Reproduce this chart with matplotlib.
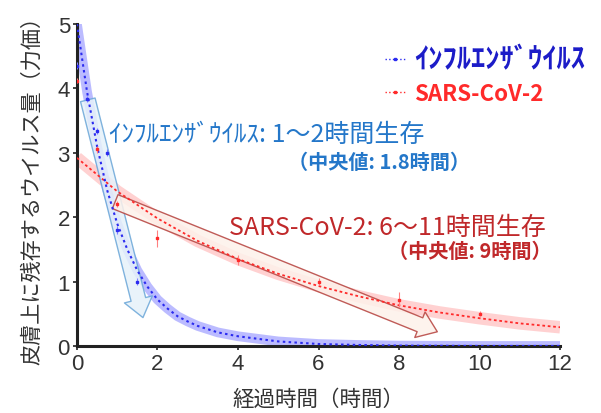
import numpy as np
import matplotlib
matplotlib.use("Agg")
import matplotlib.pyplot as plt
from matplotlib.lines import Line2D
from matplotlib.patches import FancyArrowPatch, ArrowStyle

plt.rcParams["font.family"] = ["Noto Sans CJK JP", "DejaVu Sans"]

# measured points (hours, log10 titer)
flu_t = [0, 0.25, 0.5, 0.75, 1, 1.5]
flu_v = [4.35, 3.83, 3.34, 3.0, 1.8, 1.0]
flu_err = [0.05, 0.05, 0.05, 0.05, 0.06, 0.05]

cov_t = [0, 0.5, 1, 2, 4, 6, 8, 10]
cov_v = [4.12, 3.05, 2.2, 1.67, 1.33, 1.0, 0.72, 0.5]
cov_err = [0.04, 0.05, 0.05, 0.13, 0.08, 0.05, 0.12, 0.04]

# fitted decay curves
flu_fit_t = [0, 0.25, 0.5, 0.75, 1, 1.25, 1.5, 1.75, 2, 2.25, 2.5, 2.75, 3, 3.5, 4, 5, 6, 7, 8, 10, 12]
flu_fit_v = [5.0, 3.95, 3.1, 2.42, 1.9, 1.5, 1.17, 0.92, 0.72, 0.58, 0.46, 0.38, 0.31, 0.21, 0.15,
             0.07, 0.03, 0.015, 0.005, 0.0, 0.0]
cov_fit_t = [0, 1, 2, 3, 4, 5, 6, 7, 8, 9, 10, 11, 12]
cov_fit_v = [2.92, 2.4, 1.98, 1.63, 1.35, 1.12, 0.93, 0.77, 0.63, 0.52, 0.43, 0.35, 0.29]

xticks = [0, 2, 4, 6, 8, 10, 12]
yticks = [0, 1, 2, 3, 4, 5]

FLU = "#2b2bf0"
COV = "#ff2a2a"

fig = plt.figure(figsize=(6.01, 4.14), dpi=100)
ax = fig.add_axes([0.128, 0.162, 0.804, 0.778])

# confidence bands drawn as wide translucent strokes
ax.plot(cov_fit_t, cov_fit_v, color="#ff9a9a", lw=9, alpha=0.45, solid_capstyle="butt", zorder=1)
ax.plot(flu_fit_t, flu_fit_v, color="#6a6aff", lw=7, alpha=0.45, solid_capstyle="butt", zorder=1)
ax.plot(cov_fit_t, cov_fit_v, color=COV, lw=1.3, ls=(0, (1.5, 1.5)), zorder=3)
ax.plot(flu_fit_t, flu_fit_v, color=FLU, lw=1.5, ls=(0, (1.2, 1.6)), zorder=3)

ax.errorbar(cov_t, cov_v, yerr=cov_err, fmt="s", ms=1.6, color=COV, ecolor="#ff8080",
            elinewidth=0.8, capsize=0, zorder=4)
ax.errorbar(flu_t, flu_v, yerr=flu_err, fmt="s", ms=1.6, color=FLU, ecolor="#8080ff",
            elinewidth=0.8, capsize=0, zorder=4)

# hollow block arrows
flu_arrow = FancyArrowPatch((0.27, 3.82), (1.64, 0.44),
                            arrowstyle=ArrowStyle.Simple(head_length=0.75, head_width=1.15, tail_width=0.6),
                            mutation_scale=18, shrinkA=0, shrinkB=0,
                            facecolor="#e6f2fa", edgecolor="#6aa6d8", alpha=0.85, lw=1.0, zorder=2)
cov_arrow = FancyArrowPatch((0.95, 2.24), (8.95, 0.22),
                            arrowstyle=ArrowStyle.Simple(head_length=0.75, head_width=1.1, tail_width=0.6),
                            mutation_scale=18, shrinkA=0, shrinkB=0,
                            facecolor="#fdf1ea", edgecolor="#b5403c", alpha=0.85, lw=1.0, zorder=2)
ax.add_patch(flu_arrow)
ax.add_patch(cov_arrow)

ax.text(0.79, 3.29, "ｲﾝﾌﾙｴﾝｻﾞｳｲﾙｽ: 1～2時間生存", color="#2477c9", fontsize=18,
        ha="left", va="center", zorder=5)
ax.text(9.75, 2.86, "（中央値: 1.8時間）", color="#2477c9", fontsize=14.5, fontweight="bold",
        ha="right", va="center", zorder=5)
ax.text(3.77, 1.85, "SARS-CoV-2: 6～11時間生存", color="#c0282a", fontsize=18,
        ha="left", va="center", zorder=5)
ax.text(11.79, 1.48, "（中央値: 9時間）", color="#c0282a", fontsize=14.5, fontweight="bold",
        ha="right", va="center", zorder=5)

handles = [Line2D([], [], color=FLU, ls=":", lw=1.0, marker="s", ms=1.5),
           Line2D([], [], color=COV, ls=":", lw=1.0, marker="s", ms=1.5)]
leg = ax.legend(handles, ["ｲﾝﾌﾙｴﾝｻﾞｳｲﾙｽ", "SARS-CoV-2"], loc="upper left",
                bbox_to_anchor=(385 / 601, 1 - 46 / 414), bbox_transform=fig.transFigure,
                frameon=False, handlelength=0.9, handletextpad=0.4, labelspacing=0.4,
                prop={"size": 16, "weight": "bold"}, borderpad=0, borderaxespad=0)
for txt, col in zip(leg.get_texts(), ["#1c1cc8", COV]):
    txt.set_color(col)
leg.get_texts()[0].set_fontsize(20.5)

ax.set_xlim(0, 12)
ax.set_ylim(0, 5)
ax.set_xticks(xticks)
ax.set_yticks(yticks)
for side in ["top", "right"]:
    ax.spines[side].set_visible(False)
for side in ["left", "bottom"]:
    ax.spines[side].set_linewidth(2.2)
    ax.spines[side].set_color("#222222")
ax.tick_params(length=3, width=1.2, color="#222222", labelsize=16, labelcolor="#333333", pad=2)
for lab in ax.get_xticklabels() + ax.get_yticklabels():
    lab.set_family("Liberation Sans")

ax.set_xlabel("経過時間（時間）", fontsize=15.5, color="#333333", labelpad=10)
ax.set_ylabel("皮膚上に残存するウイルス量（力価）", fontsize=15.2, color="#333333", labelpad=10)

fig.savefig("out.png", dpi=100)
